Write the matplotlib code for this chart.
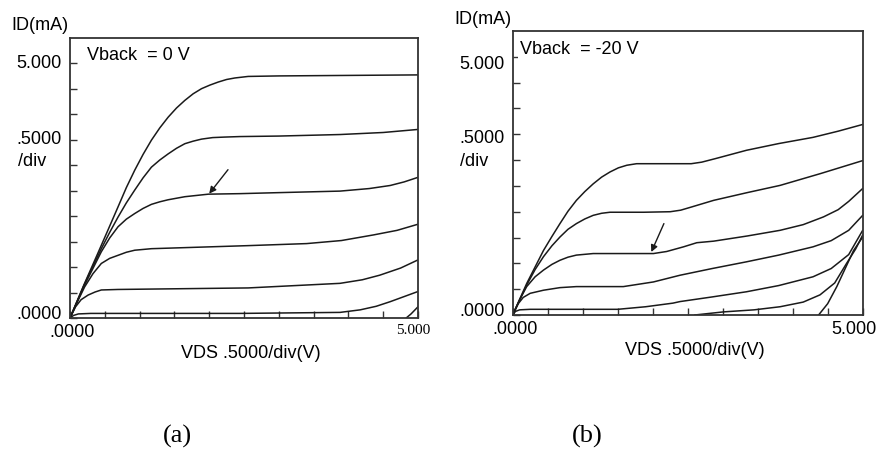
import numpy as np
import matplotlib
matplotlib.use("Agg")
import matplotlib.pyplot as plt
import matplotlib.transforms as mtransforms

plt.rcParams['font.family'] = ['Liberation Sans', 'DejaVu Sans']

# ---- panel (a): Vback = 0 V, VDS (V) vs ID (mA) ----
a_v1 = [0, 0.20, 0.40, 0.55, 0.69, 0.81, 0.93, 1.05, 1.17, 1.29, 1.41, 1.53, 1.65, 1.77, 1.89, 2.01, 2.13, 2.25, 2.37, 2.56, 3.0, 4.0, 5.0]
a_i1 = [0, 0.65, 1.27, 1.74, 2.18, 2.56, 2.90, 3.21, 3.49, 3.73, 3.94, 4.12, 4.27, 4.40, 4.50, 4.57, 4.63, 4.68, 4.71, 4.74, 4.75, 4.76, 4.77]
a_v2 = [0, 0.20, 0.45, 0.57, 0.69, 0.81, 0.93, 1.05, 1.17, 1.29, 1.41, 1.53, 1.65, 1.77, 1.89, 2.05, 2.22, 2.44, 3.0, 3.88, 4.5, 5.0]
a_i2 = [0, 0.64, 1.36, 1.68, 1.98, 2.26, 2.51, 2.75, 2.96, 3.10, 3.22, 3.33, 3.42, 3.47, 3.51, 3.54, 3.55, 3.56, 3.57, 3.60, 3.64, 3.70]
a_v3 = [0, 0.20, 0.45, 0.57, 0.69, 0.81, 0.93, 1.05, 1.17, 1.29, 1.41, 1.65, 1.99, 2.44, 3.0, 3.88, 4.3, 4.6, 4.8, 5.0]
a_i3 = [0, 0.62, 1.30, 1.57, 1.79, 1.94, 2.05, 2.15, 2.23, 2.28, 2.32, 2.38, 2.43, 2.44, 2.46, 2.49, 2.54, 2.60, 2.67, 2.76]
a_v4 = [0, 0.10, 0.21, 0.33, 0.45, 0.57, 0.69, 0.81, 0.93, 1.17, 2.56, 3.40, 3.9, 4.36, 4.7, 5.0]
a_i4 = [0, 0.30, 0.61, 0.87, 1.07, 1.17, 1.23, 1.29, 1.33, 1.36, 1.42, 1.46, 1.52, 1.63, 1.72, 1.84]
a_v5 = [0, 0.08, 0.16, 0.26, 0.36, 0.45, 0.69, 2.56, 3.88, 4.2, 4.45, 4.75, 5.0]
a_i5 = [0, 0.22, 0.36, 0.45, 0.51, 0.55, 0.56, 0.59, 0.68, 0.75, 0.84, 0.98, 1.14]
a_v6 = [0, 0.05, 0.12, 0.3, 2.44, 3.88, 4.17, 4.4, 4.6, 4.8, 5.0]
a_i6 = [0, 0.05, 0.08, 0.09, 0.09, 0.11, 0.16, 0.23, 0.32, 0.42, 0.52]
a_v7 = [4.83, 4.9, 5.0]
a_i7 = [0, 0.08, 0.22]

# ---- panel (b): Vback = -20 V ----
b_v1 = [0, 0.20, 0.44, 0.56, 0.675, 0.79, 0.91, 1.03, 1.15, 1.27, 1.39, 1.51, 1.63, 1.77, 2.0, 2.39, 2.55, 2.70, 2.90, 3.34, 3.8, 4.29, 4.65, 5.0]
b_i1 = [0, 0.61, 1.25, 1.52, 1.77, 2.01, 2.22, 2.39, 2.54, 2.67, 2.77, 2.85, 2.90, 2.93, 2.93, 2.93, 2.93, 2.96, 3.03, 3.19, 3.32, 3.44, 3.56, 3.69]
b_v2 = [0, 0.20, 0.32, 0.44, 0.56, 0.675, 0.79, 0.91, 1.03, 1.15, 1.27, 1.39, 1.87, 2.25, 2.40, 2.55, 2.87, 3.35, 3.82, 4.4, 5.0]
b_i2 = [0, 0.58, 0.88, 1.13, 1.34, 1.51, 1.66, 1.77, 1.86, 1.93, 1.97, 1.99, 1.99, 2.0, 2.03, 2.09, 2.22, 2.37, 2.51, 2.74, 2.99]
b_v3 = [0, 0.10, 0.20, 0.32, 0.44, 0.56, 0.675, 0.79, 0.91, 1.15, 2.01, 2.2, 2.44, 2.63, 2.87, 3.35, 3.82, 4.15, 4.44, 4.65, 4.8, 5.0]
b_i3 = [0, 0.30, 0.55, 0.74, 0.87, 0.98, 1.06, 1.12, 1.16, 1.19, 1.19, 1.23, 1.32, 1.40, 1.43, 1.53, 1.64, 1.75, 1.90, 2.04, 2.2, 2.45]
b_v4 = [0, 0.08, 0.15, 0.25, 0.44, 0.675, 0.91, 1.58, 2.01, 2.39, 2.85, 3.34, 3.8, 4.29, 4.55, 4.8, 5.0]
b_i4 = [0, 0.22, 0.34, 0.42, 0.48, 0.53, 0.55, 0.55, 0.64, 0.77, 0.90, 1.03, 1.16, 1.32, 1.44, 1.64, 1.93]
b_v5 = [0, 0.04, 0.1, 0.25, 1.5, 1.9, 2.29, 2.39, 2.85, 3.34, 3.8, 4.29, 4.55, 4.8, 5.0]
b_i5 = [0, 0.07, 0.10, 0.11, 0.11, 0.16, 0.23, 0.26, 0.35, 0.45, 0.57, 0.74, 0.90, 1.17, 1.64]
b_v6 = [2.6, 3.01, 3.45, 3.82, 4.15, 4.39, 4.6, 4.77, 4.9, 5.0]
b_i6 = [0, 0.06, 0.10, 0.16, 0.25, 0.39, 0.62, 1.00, 1.28, 1.55]
b_v7 = [4.37, 4.5, 4.63, 4.75, 4.87, 5.0]
b_i7 = [0, 0.22, 0.55, 0.90, 1.25, 1.51]

panels = [
    dict(rect=[70 / 879, 1 - 318 / 450, 348 / 879, 280.3 / 450],
         curves=[(a_v1, a_i1), (a_v2, a_i2), (a_v3, a_i3), (a_v4, a_i4),
                 (a_v5, a_i5), (a_v6, a_i6), (a_v7, a_i7)],
         vback='Vback  = 0 V', vx=0.05, arrow=((2.27, 2.91), (2.00, 2.44)),
         y5=4.99, ymid=3.51, serif_x=True, tag='(a)', tagx=0.31, tagy=-0.421),
    dict(rect=[512.7 / 879, 1 - 315 / 450, 350 / 879, 284 / 450],
         curves=[(b_v1, b_i1), (b_v2, b_i2), (b_v3, b_i3), (b_v4, b_i4),
                 (b_v5, b_i5), (b_v6, b_i6), (b_v7, b_i7)],
         vback='Vback  = -20 V', vx=0.02, arrow=((2.16, 1.77), (1.98, 1.22)),
         y5=4.86, ymid=3.41, serif_x=False, tag='(b)', tagx=0.212, tagy=-0.426),
]

fig = plt.figure(figsize=(8.79, 4.5), dpi=100)
ink = '#1a1a1a'

for p in panels:
    ax = fig.add_axes(p['rect'])
    for v, i in p['curves']:
        ax.plot(v, i, color=ink, lw=1.1, solid_capstyle='round', solid_joinstyle='round')
    ax.set_xlim(0, 5.0)
    ax.set_ylim(0, 5.5)
    ax.set_xticks(np.arange(0, 5.01, 0.5))
    ax.set_yticks(np.arange(0, 5.01, 0.5))
    ax.tick_params(direction='in', length=5, width=1, color='#333333',
                   labelleft=False, labelbottom=False)
    for s in ax.spines.values():
        s.set_color('#333333')
        s.set_linewidth(1.3)

    yl = mtransforms.blended_transform_factory(ax.transAxes, ax.transData)
    off = mtransforms.offset_copy(yl, fig=fig, x=-8, y=0, units='dots')
    off2 = mtransforms.offset_copy(yl, fig=fig, x=-24, y=0, units='dots')
    ax.text(0, p['y5'], '5.000', transform=off, ha='right', va='center', fontsize=13)
    ax.text(0, p['ymid'], '.5000', transform=off, ha='right', va='center', fontsize=13)
    ax.text(0, p['ymid'] - 0.43, '/div', transform=off2, ha='right', va='center', fontsize=13)
    ax.text(0, 0.06, '.0000', transform=off, ha='right', va='center', fontsize=13)
    ax.text(-0.085, 1.012, 'ID(mA)', transform=ax.transAxes, ha='center', va='bottom', fontsize=13)

    xl = mtransforms.offset_copy(ax.transData, fig=fig, x=0, y=-6, units='dots')
    ax.text(0.03, 0, '.0000', transform=xl, ha='center', va='top', fontsize=13)
    if p['serif_x']:
        ax.text(4.93, 0, '5.000', transform=xl, ha='center', va='top', fontsize=11,
                family='Liberation Serif')
    else:
        ax.text(4.87, 0, '5.000', transform=xl, ha='center', va='top', fontsize=13)
    ax.text(0.52, -0.095, 'VDS .5000/div(V)', transform=ax.transAxes,
            ha='center', va='top', fontsize=13)
    ax.text(p['tagx'], p['tagy'], p['tag'], transform=ax.transAxes, ha='center',
            va='center', fontsize=19, family='Liberation Serif')

    ax.text(p['vx'], 0.935, p['vback'], transform=ax.transAxes, ha='left', va='center',
            fontsize=13, bbox=dict(facecolor='white', edgecolor='none', pad=1))
    (x0, y0), (x1, y1) = p['arrow']
    ax.annotate('', xy=(x1, y1), xytext=(x0, y0),
                arrowprops=dict(arrowstyle='-|>', color=ink, lw=1.0,
                                mutation_scale=10, shrinkA=0, shrinkB=0))

fig.savefig('out.png', dpi=100)
